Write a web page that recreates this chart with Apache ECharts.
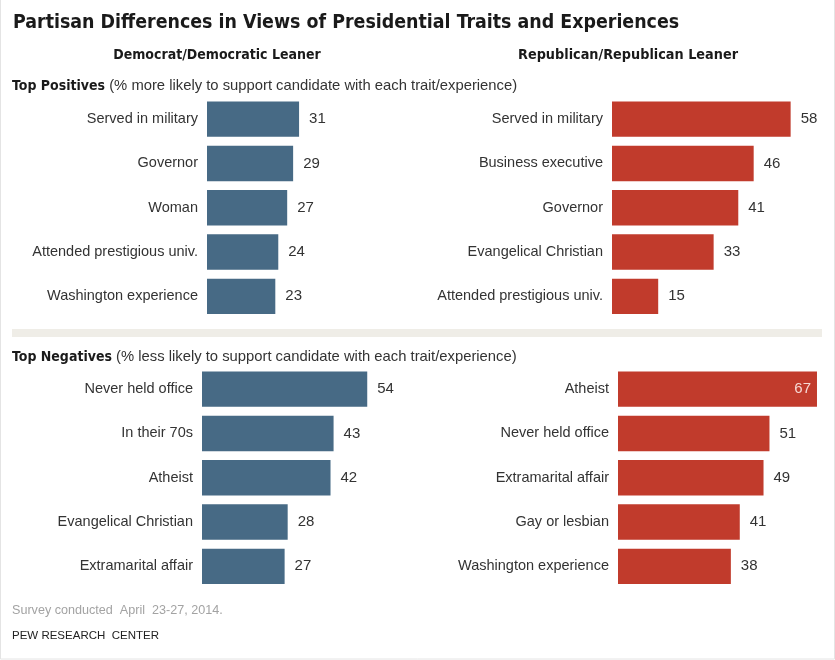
<!DOCTYPE html>
<html>
<head>
<meta charset="utf-8">
<title>Partisan Differences in Views of Presidential Traits and Experiences</title>
<script src="https://cdn.jsdelivr.net/npm/echarts@6/dist/echarts.min.js"></script>
<style>
  html, body { margin: 0; padding: 0; background: #fff; }
  #chart { width: 835px; height: 660px; }
</style>
</head>
<body>
<div id="chart"></div>
<script>
// --- data ---
var demPosNames = ['Served in military', 'Governor', 'Woman', 'Attended prestigious univ.', 'Washington experience'];
var demPosValues = [31, 29, 27, 24, 23];
var repPosNames = ['Served in military', 'Business executive', 'Governor', 'Evangelical Christian', 'Attended prestigious univ.'];
var repPosValues = [58, 46, 41, 33, 15];
var demNegNames = ['Never held office', 'In their 70s', 'Atheist', 'Evangelical Christian', 'Extramarital affair'];
var demNegValues = [54, 43, 42, 28, 27];
var repNegNames = ['Atheist', 'Never held office', 'Extramarital affair', 'Gay or lesbian', 'Washington experience'];
var repNegValues = [67, 51, 49, 41, 38];

var DEM = '#476a85';
var REP = '#c13b2c';
var NARROW = '"DejaVu Sans Condensed", "Liberation Sans Narrow", sans-serif';
var SANS = '"Liberation Sans", Arial, sans-serif';

var chart = echarts.init(document.getElementById('chart'));

// one grid per panel: left edge, top, px per unit
var panels = [
  { names: demPosNames, values: demPosValues, color: DEM, left: 207, top: 97, scale: 2.97 },
  { names: repPosNames, values: repPosValues, color: REP, left: 612, top: 97, scale: 3.08 },
  { names: demNegNames, values: demNegValues, color: DEM, left: 202, top: 367, scale: 3.06 },
  { names: repNegNames, values: repNegValues, color: REP, left: 618, top: 367, scale: 2.97 }
];
var AXIS_MAX = 70;

var grids = [], xAxes = [], yAxes = [], series = [];
panels.forEach(function (p, i) {
  grids.push({ left: p.left, top: p.top, width: AXIS_MAX * p.scale, height: 221.5, outerBoundsMode: 'none' });
  xAxes.push({ type: 'value', gridIndex: i, min: 0, max: AXIS_MAX, show: false });
  yAxes.push({
    type: 'category', gridIndex: i, data: p.names, inverse: true,
    axisLine: { show: false }, axisTick: { show: false },
    axisLabel: { color: '#333', fontSize: 14.5, fontFamily: SANS, margin: 9 }
  });
  series.push({
    type: 'bar', xAxisIndex: i, yAxisIndex: i,
    barCategoryGap: '20%',
    silent: true,
    itemStyle: { color: p.color },
    label: {
      show: true, position: 'right', distance: 10,
      color: '#333', fontSize: 15, fontFamily: SANS
    },
    data: p.values.map(function (v) {
      // the one bar too long for the panel carries its value inside
      if (v > 60) {
        return { value: v, label: { position: 'insideRight', distance: 6, color: '#f6d9d4' } };
      }
      return v;
    })
  });
});

var option = {
  animation: false,
  grid: grids,
  xAxis: xAxes,
  yAxis: yAxes,
  series: series,
  graphic: [
    { type: 'rect', shape: { x: 0.5, y: -2, width: 834, height: 661 },
      style: { fill: 'none', stroke: '#e4e4e4', lineWidth: 1 }, silent: true },
    { type: 'text', x: 13, y: 23,
      style: { text: 'Partisan Differences in Views of Presidential Traits and Experiences',
        font: 'bold 19.4px ' + NARROW, fill: '#1a1a1a', verticalAlign: 'middle' } },
    { type: 'text', x: 217, y: 55,
      style: { text: 'Democrat/Democratic Leaner', font: 'bold 14px ' + NARROW,
        fill: '#1a1a1a', align: 'center', verticalAlign: 'middle' } },
    { type: 'text', x: 628, y: 55,
      style: { text: 'Republican/Republican Leaner', font: 'bold 14.3px ' + NARROW,
        fill: '#1a1a1a', align: 'center', verticalAlign: 'middle' } },
    { type: 'text', x: 12, y: 86,
      style: { text: '{b|Top Positives} (% more likely to support candidate with each trait/experience)',
        verticalAlign: 'middle', fill: '#333', font: '14.8px ' + SANS,
        rich: { b: { fontWeight: 'bold', fontFamily: NARROW, fontSize: 14, fill: '#1a1a1a' } } } },
    { type: 'rect', shape: { x: 12, y: 329, width: 810, height: 8 },
      style: { fill: '#efede7' }, silent: true },
    { type: 'text', x: 12, y: 357,
      style: { text: '{b|Top Negatives} (% less likely to support candidate with each trait/experience)',
        verticalAlign: 'middle', fill: '#333', font: '14.8px ' + SANS,
        rich: { b: { fontWeight: 'bold', fontFamily: NARROW, fontSize: 14, fill: '#1a1a1a' } } } },
    { type: 'text', x: 12, y: 611,
      style: { text: 'Survey conducted  April  23-27, 2014.', font: '12.6px ' + SANS,
        fill: '#a3a3a3', verticalAlign: 'middle' } },
    { type: 'text', x: 12, y: 636,
      style: { text: 'PEW RESEARCH  CENTER', font: '11.5px ' + SANS,
        fill: '#222', verticalAlign: 'middle' } }
  ]
};

chart.setOption(option);
</script>
</body>
</html>
